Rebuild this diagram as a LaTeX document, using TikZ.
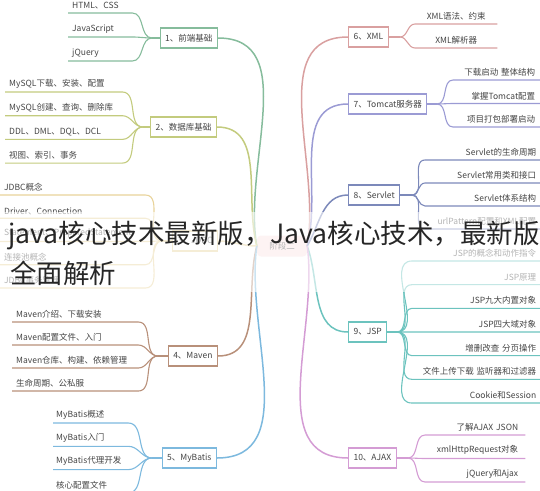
\documentclass[tikz,border=0pt]{standalone}
\usepackage{fontspec}
\setmainfont{Noto Sans CJK SC}

\definecolor{txt}{HTML}{444444}
\definecolor{hub}{HTML}{FBE3E3}
\definecolor{c1}{HTML}{86BC9C}
\definecolor{c2}{HTML}{C3CB7E}
\definecolor{c3}{HTML}{E8D39A}
\definecolor{c4}{HTML}{B8907A}
\definecolor{c5}{HTML}{7DB9DE}
\definecolor{c6}{HTML}{D9A0A0}
\definecolor{c7}{HTML}{9B9BD4}
\definecolor{c8}{HTML}{7C89BA}
\definecolor{c9}{HTML}{6CC3BE}
\definecolor{c10}{HTML}{D49CD4}

\begin{document}
\begin{tikzpicture}[x=1pt, y=-1pt,
  every node/.style={text=txt, font=\fontsize{8.5}{10}\selectfont},
  topic/.style={draw, fill=white, line width=1.1pt, minimum height=20pt, inner xsep=5pt},
  leafl/.style={anchor=south west, align=left, inner xsep=4pt, inner ysep=3.5pt},
  leafr/.style={anchor=south west, align=right, inner xsep=4pt, inner ysep=3.5pt},
  main/.style={line width=1.5pt},
  twig/.style={line width=1.1pt},
  caption/.style={anchor=base west, inner sep=0pt, text={black!85}, font=\fontsize{26.5}{40}\selectfont}]
  \useasboundingbox (0,0) rectangle (540,490);
  \clip (0,0) rectangle (540,490);

  % center
  \node[fill=hub, rounded corners=4pt, minimum width=50pt, minimum height=21pt] (c) at (282,246) {阶段二};

  % 1
  \node[topic, draw=c1, anchor=east] (b1) at (218,38) {1、前端基础};
  \coordinate (j1) at (152,38);
  \draw[twig, c1] (b1.west) -- (j1);
  \foreach \lbl [count=\i] in {HTML、CSS, JavaScript, jQuery} {
    \node[leafl, text width=56pt] (a1-\i) at (68,{13+24*(\i-1)}) {\lbl};
    \draw[twig, c1] (j1) to[out=180, in=0] (a1-\i.south east) -- (a1-\i.south west);
  }

  % 2
  \node[topic, draw=c2, anchor=east] (b2) at (217,127) {2、数据库基础};
  \coordinate (j2) at (143,127);
  \draw[twig, c2] (b2.west) -- (j2);
  \foreach \lbl [count=\i] in {MySQL下载、安装、配置, MySQL创建、查询、删除库, DDL、DML、DQL、DCL, 视图、索引、事务} {
    \node[leafl, text width=109pt] (a2-\i) at (5,{92+23.7*(\i-1)}) {\lbl};
    \draw[twig, c2] (j2) to[out=180, in=0] (a2-\i.south east) -- (a2-\i.south west);
  }

  % 3
  \node[topic, draw=c3, anchor=east] (b3) at (218,241) {3、JDBC};
  \coordinate (j3) at (162,241);
  \draw[twig, c3] (b3.west) -- (j3);
  \foreach \lbl [count=\i] in {JDBC概念, Driver、Connection, Statement、PreparedStatement, 连接池概念, JDBC事务管理} {
    \node[leafl, text width=137pt] (a3-\i) at (0,{195+23.25*(\i-1)}) {\lbl};
    \draw[twig, c3] (j3) to[out=180, in=0] (a3-\i.south east) -- (a3-\i.south west);
  }

  % 4
  \node[topic, draw=c4, anchor=east] (b4) at (218,356) {4、Maven};
  \coordinate (j4) at (158,356);
  \draw[twig, c4] (b4.west) -- (j4);
  \foreach \lbl [count=\i] in {Maven介绍、下载安装, Maven配置文件、入门, Maven仓库、构建、依赖管理, 生命周期、公私服} {
    \node[leafl, text width=118pt] (a4-\i) at (12,{322+23*(\i-1)}) {\lbl};
    \draw[twig, c4] (j4) to[out=180, in=0] (a4-\i.south east) -- (a4-\i.south west);
  }

  % 5
  \node[topic, draw=c5, anchor=east] (b5) at (217,458) {5、MyBatis};
  \coordinate (j5) at (152,458);
  \draw[twig, c5] (b5.west) -- (j5);
  \foreach \lbl [count=\i] in {MyBatis概述, MyBatis入门, MyBatis代理开发, 核心配置文件} {
    \node[leafl, text width=69pt, inner xsep=3pt] (a5-\i) at (53,{423+23.3*(\i-1)}) {\lbl};
    \draw[twig, c5] (j5) to[out=180, in=0] (a5-\i.south east) -- (a5-\i.south west);
  }

  % 6
  \node[topic, draw=c6, anchor=west] (b6) at (348,37) {6、XML};
  \coordinate (j6) at (400,37);
  \draw[twig, c6] (b6.east) -- (j6);
  \foreach \lbl [count=\i] in {XML语法、约束, XML解析器} {
    \node[leafr, align=center, text width=74pt] (r6-\i) at (415,{24+24*(\i-1)}) {\lbl};
    \draw[twig, c6] (j6) to[out=0, in=180] (r6-\i.south west) -- (r6-\i.south east);
  }

  % 7
  \node[topic, draw=c7, anchor=west] (b7) at (348,104) {7、Tomcat服务器};
  \coordinate (j7) at (437,104);
  \draw[twig, c7] (b7.east) -- (j7);
  \foreach \lbl [count=\i] in {下载启动 整体结构, 掌握Tomcat配置, 项目打包部署启动} {
    \node[leafr, text width=77pt, inner xsep=5pt] (r7-\i) at (453,{80+23.5*(\i-1)}) {\lbl};
    \draw[twig, c7] (j7) to[out=0, in=180] (r7-\i.south west) -- (r7-\i.south east);
  }

  % 8
  \node[topic, draw=c8, anchor=west] (b8) at (348,195) {8、Servlet};
  \coordinate (j8) at (412,195);
  \draw[twig, c8] (b8.east) -- (j8);
  \foreach \lbl [count=\i] in {Servlet的生命周期, Servlet常用类和接口, Servlet体系结构, urlPattern配置和XML配置} {
    \node[leafr, text width=107pt] (r8-\i) at (425,{160+23*(\i-1)}) {\lbl};
    \draw[twig, c8] (j8) to[out=0, in=180] (r8-\i.south west) -- (r8-\i.south east);
  }

  % 9
  \node[topic, draw=c9, anchor=west] (b9) at (348,332) {9、JSP};
  \coordinate (j9) at (397,332);
  \draw[twig, c9] (b9.east) -- (j9);
  \foreach \lbl [count=\i] in {JSP的概念和动作指令, JSP原理, JSP九大内置对象, JSP四大域对象, 增删改查 分页操作, 文件上传下载 监听器和过滤器, Cookie和Session} {
    \node[leafr, text width=120pt] (r9-\i) at (412,{261+23.67*(\i-1)}) {\lbl};
    \draw[twig, c9] (j9) to[out=0, in=180] (r9-\i.south west) -- (r9-\i.south east);
  }

  % 10
  \node[topic, draw=c10, anchor=west] (b10) at (348,458) {10、AJAX};
  \coordinate (j10) at (408,458);
  \draw[twig, c10] (b10.east) -- (j10);
  \foreach \lbl [count=\i] in {了解AJAX JSON, xmlHttpRequest对象, jQuery和Ajax} {
    \node[leafr, text width=86pt, inner xsep=7pt] (r10-\i) at (425,{435+23.5*(\i-1)}) {\lbl};
    \draw[twig, c10] (j10) to[out=0, in=180] (r10-\i.south west) -- (r10-\i.south east);
  }

  % main branches
  \draw[main, c1] (c.west) to[out=100, in=0] (b1.east);
  \draw[main, c2] (c.west) to[out=105, in=0] (b2.east);
  \draw[main, c3] (c.west) to[out=180, in=0] (b3.east);
  \draw[main, c4] (c.west) to[out=-105, in=0] (b4.east);
  \draw[main, c5] (c.west) to[out=-98, in=0] (b5.east);
  \draw[main, c6] (c.east) to[out=80, in=180] (b6.west);
  \draw[main, c7] (c.east) to[out=75, in=180] (b7.west);
  \draw[main, c8] (c.east) to[out=60, in=180] (b8.west);
  \draw[main, c9] (c.east) to[out=-70, in=180] (b9.west);
  \draw[main, c10] (c.east) to[out=-82, in=180] (b10.west);

  % caption over the map
  \fill[white, fill opacity=0.6] (0,212) rectangle (540,292);
  \node[caption] (cap1) at (8,243) {java核心技术最新版，Java核心技术，最新版};
  \node[caption] (cap2) at (10,283) {全面解析};
\end{tikzpicture}
\end{document}
